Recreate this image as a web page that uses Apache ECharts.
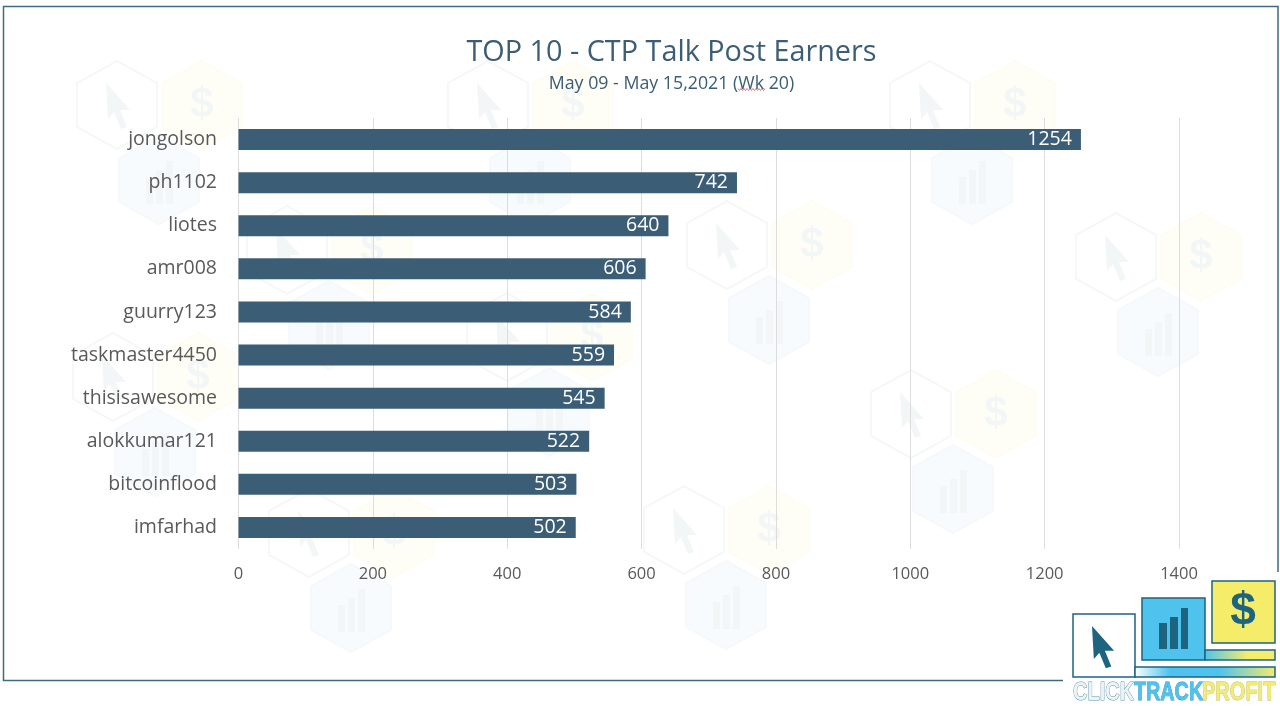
<!DOCTYPE html>
<html>
<head>
<meta charset="utf-8">
<title>TOP 10 - CTP Talk Post Earners</title>
<script src="https://cdn.jsdelivr.net/npm/echarts@6/dist/echarts.min.js"></script>
<style>
	html, body { margin: 0; padding: 0; background: #fff; }
	#chart { width: 1280px; height: 706px; }
</style>
</head>
<body>
<div id="chart"></div>
<script>
const chartTitle = 'TOP 10 - CTP Talk Post Earners';
const chartSubtitle = 'May 09 - May 15,2021 (Wk 20)';
const earners = ['jongolson', 'ph1102', 'liotes', 'amr008', 'guurry123', 'taskmaster4450', 'thisisawesome', 'alokkumar121', 'bitcoinflood', 'imfarhad'];
const posts = [1254, 742, 640, 606, 584, 559, 545, 522, 503, 502];

const FONT = '"Open Sans", "Noto Sans", sans-serif';
const BAR_COLOR = '#3b5d75';
const TEAL = '#1d6480';
const BLUE = '#4fc3ee';
const YELLOW = '#f5ec6a';

// 背景水印的位置 (光标六边形中心)
const watermarkSpots = [
	[117, 105], [488, 105], [930, 105],
	[287, 250], [727, 245], [1116, 257],
	[507, 337], [113, 377], [911, 414],
	[309, 533], [684, 530],
];

const hexPoints = (cx, cy, rx = 40, ry = 44) => [
	[cx, cy - ry], [cx + rx, cy - ry / 2], [cx + rx, cy + ry / 2],
	[cx, cy + ry], [cx - rx, cy + ry / 2], [cx - rx, cy - ry / 2],
];

const polygon = (points, fill, stroke, lineWidth, z) => ({
	type: 'polygon',
	z,
	silent: true,
	shape: { points },
	style: { fill: fill || 'transparent', stroke: stroke || 'transparent', lineWidth: lineWidth || 0 },
});

const rect = (x, y, width, height, fill, stroke, lineWidth, z) => ({
	type: 'rect',
	z,
	silent: true,
	shape: { x, y, width, height },
	style: { fill: fill || 'transparent', stroke: stroke || 'transparent', lineWidth: lineWidth || 0 },
});

const text = (x, y, value, font, fill, z, extra = {}, scaleX = 1) => ({
	type: 'text',
	x,
	y,
	z,
	scaleX,
	silent: true,
	style: Object.assign({ text: value, font, fill, align: 'center', verticalAlign: 'middle' }, extra),
});

const hGradient = (colorStops) => ({ type: 'linear', x: 0, y: 0, x2: 1, y2: 0, colorStops });

const cursorPoints = (x, y, s) => [
	[x, y], [x + 24 * s, y + 27 * s], [x + 14 * s, y + 27 * s], [x + 21 * s, y + 44 * s],
	[x + 15 * s, y + 46 * s], [x + 8 * s, y + 29 * s], [x + 2 * s, y + 36 * s],
];

const buildWatermark = ([cx, cy]) => {
	const z = -10;
	const mark = '#f3f6f7';
	const dollarX = cx + 85;
	const chartX = cx + 42;
	const chartY = cy + 75;
	return [
		polygon(hexPoints(cx, cy), '#ffffff', '#f6f8f8', 2, z),
		polygon(cursorPoints(cx - 11, cy - 22, 1), mark, null, 0, z),
		polygon(hexPoints(dollarX, cy), '#fffef6', '#fdfdf4', 2, z),
		text(dollarX, cy, '$', 'bold 42px "Liberation Sans"', mark, z),
		polygon(hexPoints(chartX, chartY), '#f7fbfd', '#f5f9fb', 2, z),
		rect(chartX - 13, chartY - 3, 7, 27, mark, null, 0, z),
		rect(chartX - 3, chartY - 10, 7, 34, mark, null, 0, z),
		rect(chartX + 7, chartY - 19, 7, 43, mark, null, 0, z),
	];
};

const buildFrame = () => [{
	type: 'polyline',
	z: 5,
	silent: true,
	shape: { points: [[1278, 572], [1278, 6.5], [3.5, 6.5], [3.5, 680.5], [1063, 680.5]] },
	style: { fill: 'transparent', stroke: '#3f6a84', lineWidth: 1.5 },
}];

// 拼写检查的红色波浪线
const buildSquiggle = () => {
	const points = [];
	for(let i = 0; i <= 18; i++){
		points.push([738 + i * 1.5, 89.5 + (i % 2 ? 1 : -1)]);
	}
	return [{
		type: 'polyline',
		z: 6,
		silent: true,
		shape: { points },
		style: { fill: 'transparent', stroke: '#e0524f', lineWidth: 0.8 },
	}];
};

const buildLogo = () => {
	const z = 20;
	const logoFont = 'bold 26px "Liberation Sans", sans-serif';
	return [
		rect(1073, 614, 62, 63, '#ffffff', TEAL, 1.5, z),
		rect(1135, 667, 140, 10, hGradient([
			{ offset: 0, color: '#ffffff' },
			{ offset: 0.25, color: BLUE },
			{ offset: 0.6, color: BLUE },
			{ offset: 1, color: YELLOW },
		]), TEAL, 1.5, z),
		rect(1142, 598, 63, 62, BLUE, TEAL, 1.5, z),
		rect(1205, 650, 70, 10, hGradient([
			{ offset: 0, color: BLUE },
			{ offset: 0.6, color: YELLOW },
			{ offset: 1, color: YELLOW },
		]), TEAL, 1.5, z),
		rect(1212, 581, 63, 62, YELLOW, TEAL, 1.5, z),
		polygon(cursorPoints(1092, 626, 0.92), TEAL, null, 0, z + 1),
		rect(1159, 623, 8, 26, TEAL, null, 0, z + 1),
		rect(1170, 617, 8, 32, TEAL, null, 0, z + 1),
		rect(1181, 608, 7, 41, TEAL, null, 0, z + 1),
		text(1243, 612, '$', 'bold 46px "Liberation Sans"', TEAL, z + 1),
		text(1073, 692.5, 'CLICK', logoFont, '#eaf3f6', z + 1, { align: 'left', stroke: '#5f93a8', lineWidth: 1 }, 0.77),
		text(1134, 692.5, 'TRACK', logoFont, BLUE, z + 1, { align: 'left', stroke: '#2d8fb8', lineWidth: 0.8 }, 0.76),
		text(1202, 692.5, 'PROFIT', logoFont, '#f3ea78', z + 1, { align: 'left', stroke: '#b9b65a', lineWidth: 0.8 }, 0.77),
	];
};

const chart = echarts.init(document.getElementById('chart'));
chart.setOption({
	animation: false,
	backgroundColor: '#ffffff',
	title: [
		{
			text: chartTitle,
			left: 666.5,
			top: 33,
			textAlign: 'center',
			textStyle: { fontFamily: FONT, fontSize: 28.8, fontWeight: 'normal', color: '#3b5d75' },
		},
		{
			text: chartSubtitle,
			left: 666.5,
			top: 70,
			textAlign: 'center',
			textStyle: { fontFamily: FONT, fontSize: 17.8, fontWeight: 'normal', color: '#3b5d75' },
		},
	],
	grid: {
		left: 238.5,
		top: 118,
		width: 940.5,
		height: 431,
	},
	xAxis: {
		type: 'value',
		min: 0,
		max: 1400,
		interval: 200,
		axisLine: { show: false },
		axisTick: { show: false },
		axisLabel: {
			margin: 17,
			fontFamily: FONT,
			fontSize: 16.5,
			color: '#595959',
			formatter: (value) => `${value}`,
		},
		splitLine: {
			show: true,
			lineStyle: { color: '#dddddd', type: 'solid', width: 1 },
		},
	},
	yAxis: {
		type: 'category',
		inverse: true,
		data: earners,
		axisLine: { show: false },
		axisTick: { show: false },
		axisLabel: {
			margin: 21.5,
			fontFamily: FONT,
			fontSize: 19.5,
			color: '#595959',
		},
	},
	series: [
		{
			type: 'bar',
			data: posts,
			barWidth: 21,
			itemStyle: { color: BAR_COLOR },
			label: {
				show: true,
				position: 'insideRight',
				distance: 9,
				fontFamily: FONT,
				fontSize: 19.5,
				color: '#ffffff',
			},
			silent: true,
		},
	],
	graphic: {
		elements: [
			...watermarkSpots.flatMap(buildWatermark),
			...buildFrame(),
			...buildSquiggle(),
			...buildLogo(),
		],
	},
});
</script>
</body>
</html>
